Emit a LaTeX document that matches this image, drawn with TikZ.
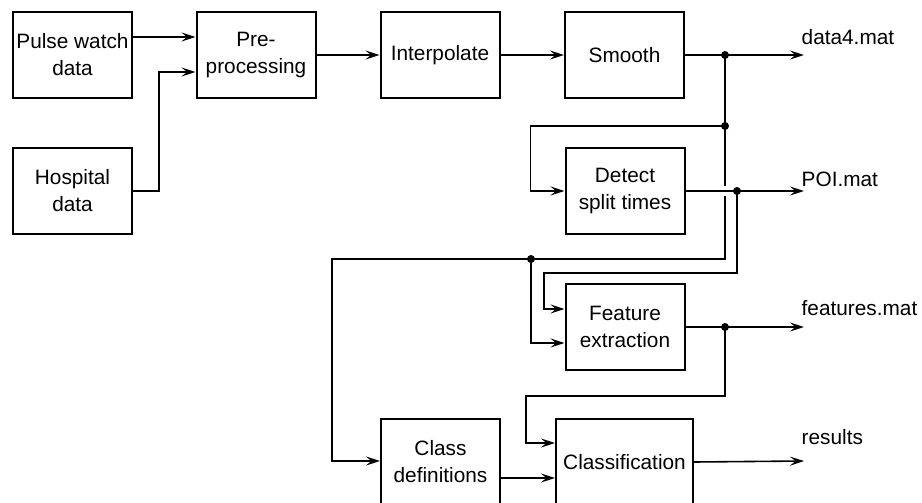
\documentclass[tikz,border=0pt]{standalone}
\usepackage{fontspec}
\setmainfont{Liberation Sans}
\usetikzlibrary{arrows.meta,calc}
\newcommand\boxfont{\fontsize{20.8}{27}\selectfont}
\tikzset{
  box/.style={draw, line width=2pt, minimum width=119pt, minimum height=86pt, inner sep=0pt, align=center, font=\boxfont},
  conn/.style={line width=1.6pt, -{Stealth[length=14pt,width=9pt,inset=5.5pt]}},
  ln/.style={line width=1.6pt},
  jdot/.style={circle, fill, inner sep=0pt, minimum size=8pt},
  lbl/.style={anchor=base west, inner sep=0pt, font=\boxfont}
}
\begin{document}
\begin{tikzpicture}[x=1pt,y=-1pt]
\useasboundingbox (0,0) rectangle (922,503);
\clip (0,0) rectangle (922,503);
\fill[white] (0,0) rectangle (922,503);

% boxes
\node[box] (pulse)  at (72.5,55)  {Pulse watch\\data};
\node[box] (hosp)   at (72.5,191) {Hospital\\data};
\node[box] (pre)    at (256,55)   {Pre-\\processing};
\node[box] (interp) at (440,55)   {Interpolate};
\node[box] (smooth) at (624.5,55) {Smooth};
\node[box] (detect) at (625,191)  {Detect\\split times};
\node[box] (feat)   at (625,327)  {Feature\\extraction};
\node[box] (cdef)   at (440.5,462) {Class\\definitions};
\node[box, minimum width=137pt] (cls) at (624.5,462) {Classification};

% junctions and free ends
\coordinate (j1) at (725,55);
\coordinate (j2) at (725,126);
\coordinate (j3) at (531,259);
\coordinate (j4) at (737,191);
\coordinate (j5) at (725,327);
\coordinate (c2) at (332,259);
\coordinate (c3) at (544,273);
\coordinate (c4) at (526,396);
\coordinate (o1) at (804,55);
\coordinate (o2) at (804,191);
\coordinate (o3) at (804,327);
\coordinate (o4) at (804,461);

% top row
\draw[conn] ([yshift=18pt]pulse.east) -- ([yshift=18pt]pre.west);
\draw[conn] (hosp.east) -- ++(26,0) |- ([yshift=-17pt]pre.west);
\draw[conn] (pre.east) -- (interp.west);
\draw[conn] (interp.east) -- (smooth.west);
\draw[conn] (smooth.east) -- (o1);

% main vertical bus
\draw[conn] (j1) |- (c2) |- ([yshift=1pt]cdef.west);
\draw[conn] (j2) -| ($(detect.west)+(-34,0)$) -- (detect.west);
% crossing gap
\draw[white, line width=2.8pt] (725,186) -- (725,196);
\draw[conn] (detect.east) -- (o2);
\draw[conn] (j4) |- (c3) |- ([yshift=18pt]feat.west);
\draw[conn] (j3) |- ([yshift=-16pt]feat.west);
\draw[conn] (feat.east) -- (o3);
\draw[conn] (j5) |- (c4) |- ([yshift=19pt]cls.west);
\draw[conn] ([yshift=-16pt]cdef.east) -- ([yshift=-16pt]cls.west);
\draw[conn] (cls.east) -- (o4);

% dots
\node[jdot] (dot1) at (j1) {};
\node[jdot] (dot2) at (j2) {};
\node[jdot] (dot3) at (j3) {};
\node[jdot] (dot4) at (j4) {};
\node[jdot] (dot5) at (j5) {};

% labels
\node[lbl] (l1) at (801.5,45)  {data4.mat};
\node[lbl] (l2) at (801.5,186) {POI.mat};
\node[lbl] (l3) at (801.5,315) {features.mat};
\node[lbl] (l4) at (801.5,444) {results};
\end{tikzpicture}
\end{document}
